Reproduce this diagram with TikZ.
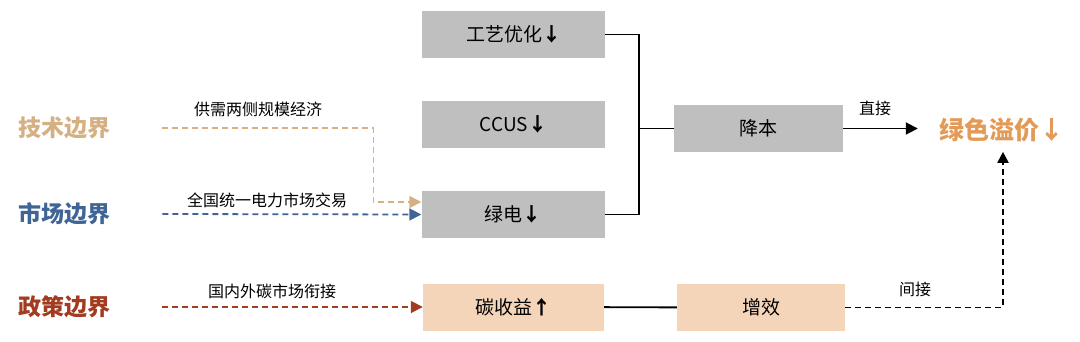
\documentclass[tikz,border=0pt]{standalone}
\usepackage{fontspec}
\setmainfont{Noto Sans CJK SC}
\usetikzlibrary{arrows.meta}
\definecolor{techtan}{RGB}{213,176,130}
\definecolor{marketblue}{RGB}{63,101,151}
\definecolor{policyred}{RGB}{163,59,32}
\definecolor{premiumorange}{RGB}{228,154,87}
\definecolor{boxgray}{RGB}{191,191,191}
\definecolor{boxpeach}{RGB}{245,213,185}
\begin{document}
\begin{tikzpicture}[x=1pt, y=-1pt,
    >={Triangle[length=12pt,width=12pt]},
    graybox/.style={fill=boxgray, minimum width=183pt, minimum height=47pt, inner sep=0pt, font=\fontsize{19}{22}\selectfont},
    peachbox/.style={fill=boxpeach, minimum width=181pt, minimum height=47pt, inner sep=0pt, font=\fontsize{19}{22}\selectfont},
    sidelabel/.style={anchor=west, inner sep=0pt, font=\fontsize{23}{26}\selectfont\bfseries},
    linelabel/.style={inner sep=0pt, font=\fontsize{16}{19}\selectfont},
    boundary/.style={line width=1.8pt, dash pattern=on 6pt off 4pt, ->},
    link/.style={line width=1.9pt}]
    \useasboundingbox (0,0) rectangle (1080,341);

    % boundaries on the left
    \node[sidelabel, text=techtan] (tech) at (18,128) {技术边界};
    \node[sidelabel, text=marketblue] (market) at (18,214) {市场边界};
    \node[sidelabel, text=policyred] (policy) at (18,307) {政策边界};

    % cost boxes
    \node[graybox] (craft) at (513.5,34.5) {工艺优化\textbf{↓}};
    \node[graybox] (ccus) at (513.5,124.5) {CCUS\textbf{↓}};
    \node[graybox] (green) at (513,214.5) {绿电\textbf{↓}};
    \node[graybox, minimum width=169pt] (cut) at (758.5,128.5) {降本};
    \node[peachbox] (carbon) at (513.5,307) {碳收益\textbf{↑}};
    \node[peachbox, minimum width=168pt] (gain) at (761,307.5) {增效};
    \node[inner sep=0pt, text=premiumorange, font=\fontsize{25}{28}\selectfont\bfseries] (premium) at (1001.5,129.5) {绿色溢价↓};

    % dashed inputs
    \draw[boundary, techtan] ([xshift=52pt]tech.east) -| ++(211,74) -- ([yshift=12.5pt]green.west);
    \draw[boundary, marketblue] ([xshift=52pt]market.east) -- (green.west);
    \draw[boundary, policyred] ([xshift=52pt]policy.east) -- (carbon.west);
    \node[linelabel] (scale) at (258,109) {供需两侧规模经济};
    \node[linelabel] (trade) at (267,200) {全国统一电力市场交易};
    \node[linelabel] (link) at (272,291) {国内外碳市场衔接};

    % bracket to cost cut
    \coordinate (hub) at ([xshift=-35pt]cut.west);
    \draw[link] (craft.east) -| (hub) |- (green.east);
    \draw[link] (hub) -- (cut.west);
    \draw[link] (carbon) -- (gain);

    % to green premium
    \draw[link, ->, shorten >=21pt] (cut.east) -- (cut.east -| premium.west);
    \node[linelabel] (direct) at (875,108) {直接};
    \draw[line width=1.9pt, dash pattern=on 6pt off 4pt, -{Triangle[length=11pt,width=11pt]}, shorten >=10pt] (gain.east) -| ([xshift=1.5pt]premium.south);
    \node[linelabel] (indirect) at (915,289) {间接};
\end{tikzpicture}
\end{document}
